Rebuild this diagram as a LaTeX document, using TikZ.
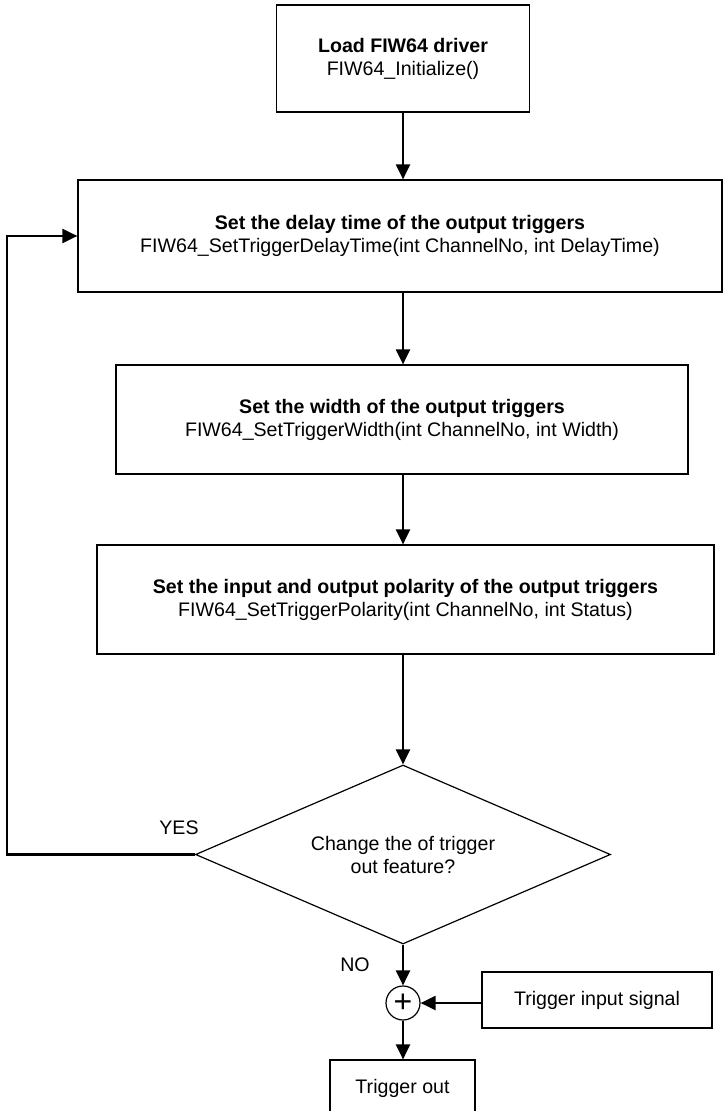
\documentclass[tikz,border=0pt]{standalone}
\usepackage{fontspec}
\setmainfont{Liberation Sans}
\usepackage{tikz}
\usetikzlibrary{arrows.meta,shapes.geometric}

\begin{document}
\begin{tikzpicture}[
				x=0.5pt, y=-0.5pt,
				font=\fontsize{9.8}{11.5}\selectfont,
				>={Triangle[length=7.5pt,width=7pt]},
				stepbox/.style={
					rectangle, draw=black, line width=0.6pt,
					fill=white, align=center, inner sep=2pt
				},
				decision/.style={
					diamond, aspect=2.3,
					draw=black, line width=0.6pt,
					align=center, inner sep=0pt,
					minimum width=207.5pt, minimum height=89.5pt
				},
				junction/.style={
					circle, draw=black, line width=0.6pt,
					minimum size=17pt, inner sep=0pt,
					font=\fontsize{16}{16}\selectfont
				},
				arr/.style={->, line width=1.1pt, black},
				lbl/.style={font=\fontsize{9.8}{11.5}\selectfont}
				]
				\useasboundingbox (0,0) rectangle (724,1111);
				\node[stepbox, minimum width=126.5pt, minimum height=53.5pt] (load) at (403, 58.5)
					{\textbf{Load FIW64 driver}\\FIW64\_Initialize()};
				\node[stepbox, minimum width=322pt, minimum height=56pt] (delay) at (400, 236)
					{\textbf{Set the delay time of the output triggers}\\FIW64\_SetTriggerDelayTime(int ChannelNo, int DelayTime)};
				\node[stepbox, minimum width=286pt, minimum height=54.5pt] (width) at (402, 419.5)
					{\textbf{Set the width of the output triggers}\\FIW64\_SetTriggerWidth(int ChannelNo, int Width)};
				\node[stepbox, minimum width=308.5pt, minimum height=54.5pt] (polarity) at (405.5, 599.5)
					{\textbf{Set the input and output polarity of the output triggers}\\FIW64\_SetTriggerPolarity(int ChannelNo, int Status)};
				\node[decision] (change) at (403, 854.5) {Change the of trigger\\out feature?};
				\node[junction] (plus) at (403, 1003) {+};
				\node[stepbox, minimum width=115pt, minimum height=28pt] (input) at (597, 1000) {Trigger input signal};
				\node[stepbox, minimum width=72.5pt, minimum height=28pt] (out) at (402.5, 1088) {Trigger out};
				\coordinate (loop) at (7, 854.5);
				
				\draw[arr] (load.south) -- (load.south |- delay.north);
				\draw[arr] (delay.south -| load) -- (width.north -| load);
				\draw[arr] (width.south -| load) -- (polarity.north -| load);
				\draw[arr] (polarity.south -| load) -- (change.north);
				\draw[arr] (change.west) -- (loop) |- (delay.west);
				\draw[arr] (change.south) -- (plus.north);
				\draw[arr] (input.west |- plus) -- (plus.east);
				\draw[arr] (plus.south) -- (out.north -| plus);
				
				\node[lbl] (yes) at (179, 828) {YES};
				\node[lbl] (no) at (355, 965) {NO};
\end{tikzpicture}
\end{document}
